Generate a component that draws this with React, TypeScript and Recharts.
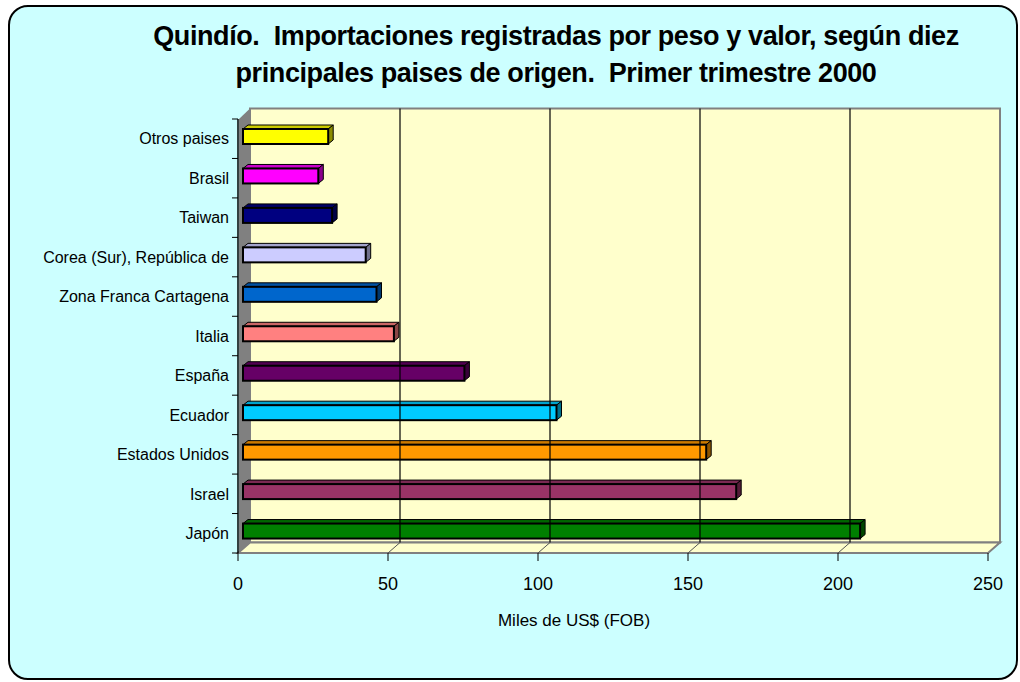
import React from 'react';
import { BarChart, Bar, XAxis, YAxis, ReferenceArea, ReferenceLine, Cell } from 'recharts';

// Quindío imports, first quarter 2000 (thousands of US$ FOB)
const countries = [
  'Otros paises',
  'Brasil',
  'Taiwan',
  'Corea (Sur), República de',
  'Zona Franca Cartagena',
  'Italia',
  'España',
  'Ecuador',
  'Estados Unidos',
  'Israel',
  'Japón',
];
const values = [28.4, 25.1, 29.7, 40.9, 44.5, 50.3, 73.8, 104.5, 154.4, 164.4, 205.7];
const colors = [
  '#FFFF00',
  '#FF00FF',
  '#000080',
  '#CCCCFF',
  '#0066CC',
  '#FF8080',
  '#660066',
  '#00CCFF',
  '#FF9900',
  '#993366',
  '#008000',
];
const xTicks = [0, 50, 100, 150, 200, 250];
const gridValues = [50, 100, 150, 200];

const titleLines = [
  'Quindío.  Importaciones registradas por peso y valor, según diez',
  'principales paises de origen.  Primer trimestre 2000',
];
const xAxisTitle = 'Miles de US$ (FOB)';

const W = 1020;
const H = 682;
const MARGIN = { top: 119, right: 32, left: 0, bottom: 0 };
const Y_AXIS_W = 238;
const X_AXIS_H = 129;
const BAND = (H - MARGIN.top - MARGIN.bottom - X_AXIS_H) / countries.length;

// 3D look
const DX = 12; // wall depth
const DY = 10.5;
const SHIFT_X = 5; // bars sit a little back from the front plane
const SHIFT_Y = 2;
const BDX = 5; // bar depth
const BDY = 4;

const FONT = '"Liberation Sans", Arial, Helvetica, sans-serif';

const data = countries.map((name, i) => ({ name, value: values[i] }));

function shade(hex: string, f: number) {
  const n = parseInt(hex.slice(1), 16);
  const r = Math.round(((n >> 16) & 255) * f);
  const g = Math.round(((n >> 8) & 255) * f);
  const b = Math.round((n & 255) * f);
  return `rgb(${r},${g},${b})`;
}

const Bar3D = (props: any) => {
  const { x, y, width, height, fill } = props;
  if (!width) return null;
  const fx = x + SHIFT_X;
  const fy = y - SHIFT_Y;
  const top = `${fx},${fy} ${fx + BDX},${fy - BDY} ${fx + width + BDX},${fy - BDY} ${fx + width},${fy}`;
  const side = `${fx + width},${fy} ${fx + width + BDX},${fy - BDY} ${fx + width + BDX},${fy + height - BDY} ${fx + width},${fy + height}`;
  return (
    <g>
      <polygon points={top} fill={shade(fill, 0.8)} stroke="#000" strokeWidth={1} strokeLinejoin="round" />
      <polygon points={side} fill={shade(fill, 0.55)} stroke="#000" strokeWidth={1} strokeLinejoin="round" />
      <rect x={fx} y={fy} width={width} height={height} fill={fill} stroke="#000" strokeWidth={2} />
    </g>
  );
};

// back wall, left wall and floor around the plot area
const Walls = (props: any) => {
  const { x, y, width, height } = props;
  const b = y + height;
  return (
    <g>
      <rect x={x + DX} y={y - DY} width={width} height={height} fill="#FFFFCC" stroke="#808080" strokeWidth={2} />
      <polygon
        points={`${x + 1},${y} ${x + DX},${y - DY} ${x + DX},${b - DY} ${x + 1},${b}`}
        fill="#808080"
      />
      <polygon
        points={`${x},${b} ${x + DX},${b - DY} ${x + width + DX},${b - DY} ${x + width},${b}`}
        fill="#FFFFCC"
        stroke="#808080"
        strokeWidth={2}
      />
    </g>
  );
};

// gridline drawn on the back wall, plus its diagonal across the floor
const BackGridLine = (props: any) => {
  const { x1, y1, x2, y2 } = props;
  const top = Math.min(y1, y2);
  const bottom = Math.max(y1, y2);
  return (
    <g>
      <line x1={x1 + DX} y1={top - DY} x2={x2 + DX} y2={bottom - DY} stroke="#000" strokeWidth={1.2} />
      <line x1={x1} y1={bottom} x2={x1 + DX} y2={bottom - DY} stroke="#555" strokeWidth={1} />
    </g>
  );
};

const CategoryTick = (props: any) => {
  const { x, y, payload, index } = props;
  const half = BAND / 2;
  return (
    <g>
      <line x1={x + 3} y1={y - half} x2={x + 9} y2={y - half} stroke="#000" />
      {index === countries.length - 1 && (
        <line x1={x + 3} y1={y + half} x2={x + 9} y2={y + half} stroke="#000" />
      )}
      <text x={x} y={y} dy="0.36em" textAnchor="end" fontSize={16} fill="#000" fontFamily={FONT}>
        {payload.value}
      </text>
    </g>
  );
};

const AxisTitle = (props: any) => {
  const vb = props.viewBox || {};
  return (
    <text x={vb.x + vb.width / 2 - 39} y={vb.y + 73} textAnchor="middle" fontSize={17} fill="#000" fontFamily={FONT}>
      {xAxisTitle}
    </text>
  );
};

export default function App() {
  return (
    <div style={{ position: 'absolute', left: 0, top: 0, width: W, height: H, fontFamily: FONT }}>
      <div
        style={{
          position: 'absolute',
          left: 8,
          top: 5,
          width: 1010,
          height: 675,
          boxSizing: 'border-box',
          border: '2px solid #000',
          borderRadius: 20,
          background: '#CCFFFF',
        }}
      />
      <div
        style={{
          position: 'absolute',
          left: 106,
          top: 18,
          width: 900,
          textAlign: 'center',
          fontWeight: 'bold',
          fontSize: 27,
          lineHeight: '37px',
          whiteSpace: 'pre',
          color: '#000',
          letterSpacing: -0.4,
        }}
      >
        {titleLines.map((t) => (
          <div key={t}>{t}</div>
        ))}
      </div>
      <div style={{ position: 'absolute', left: 0, top: 0 }}>
        <BarChart width={W} height={H} data={data} layout="vertical" margin={MARGIN} barCategoryGap={0}>
          <ReferenceArea x1={0} x2={250} shape={<Walls />} ifOverflow="visible" />
          {gridValues.map((v) => (
            <ReferenceLine key={v} x={v} shape={<BackGridLine />} ifOverflow="visible" />
          ))}
          <XAxis
            type="number"
            domain={[0, 250]}
            ticks={xTicks}
            interval={0}
            height={X_AXIS_H}
            axisLine={false}
            tickLine={{ stroke: '#000' }}
            tickSize={8}
            tickMargin={16}
            tick={{ fontSize: 18, fill: '#000', fontFamily: FONT }}
            label={<AxisTitle />}
          />
          <YAxis
            type="category"
            dataKey="name"
            width={Y_AXIS_W}
            axisLine={{ stroke: '#000', strokeWidth: 1.5 }}
            tickLine={false}
            tickSize={6}
            tickMargin={3}
            interval={0}
            tick={<CategoryTick />}
          />
          <Bar dataKey="value" barSize={15} shape={<Bar3D />} isAnimationActive={false}>
            {data.map((d, i) => (
              <Cell key={d.name} fill={colors[i]} />
            ))}
          </Bar>
        </BarChart>
      </div>
    </div>
  );
}
